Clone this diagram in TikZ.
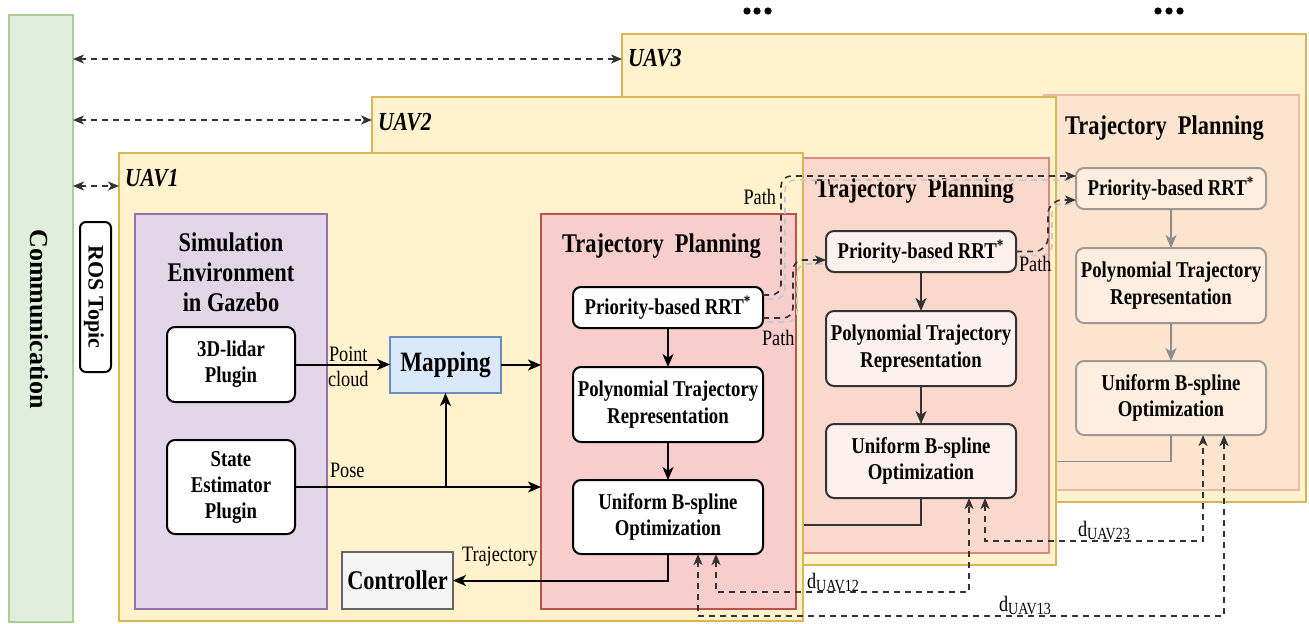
\documentclass[tikz,border=0pt]{standalone}
\usepackage{fontspec}
\setmainfont{Liberation Serif}[FakeStretch=0.83]
\newfontfamily\plainserif{Liberation Serif}
\usetikzlibrary{calc,arrows.meta}
\definecolor{commf}{HTML}{E1EEDC}
\definecolor{commd}{HTML}{A8CF96}
\definecolor{uavf}{HTML}{FFF2CC}
\definecolor{uavd}{HTML}{D6B656}
\definecolor{tpfa}{HTML}{F8CECC}
\definecolor{tpda}{HTML}{B85450}
\definecolor{tpfb}{HTML}{FAD9CC}
\definecolor{tpdb}{HTML}{D98A80}
\definecolor{tpfc}{HTML}{FCE4CE}
\definecolor{tpdc}{HTML}{EDB8A8}
\definecolor{simf}{HTML}{E1D5E7}
\definecolor{simd}{HTML}{9673A6}
\definecolor{mapf}{HTML}{DAE8FC}
\definecolor{mapd}{HTML}{6C8EBF}
\definecolor{ctrf}{HTML}{F5F5F5}
\definecolor{ctrd}{HTML}{666666}
\definecolor{boxfb}{HTML}{FCF1EE}
\definecolor{boxfc}{HTML}{FDEEDF}
\definecolor{dk}{HTML}{333333}
\definecolor{grc}{HTML}{8C8C8C}
\definecolor{grcb}{HTML}{A09A95}
\definecolor{shade}{HTML}{C8C8C8}
\newcommand\fsz[2]{\fontsize{#1}{#2}\selectfont}
\newcommand\dsub[1]{d\raisebox{-1.6pt}{\fsz{8.5}{9}#1}}
\begin{document}
\begin{tikzpicture}[x=0.5pt,y=-0.5pt,
  every node/.style={inner sep=0pt,outer sep=0pt},
  commbox/.style={draw=commd,fill=commf,line width=0.9pt},
  uavbox/.style={draw=uavd,fill=uavf,line width=1.1pt,minimum width=342pt,minimum height=234pt},
  uavlab/.style={anchor=west,font=\fsz{13}{15}\bfseries\itshape},
  tpbox/.style={line width=0.9pt,minimum width=127.5pt,minimum height=197.5pt},
  tptitle/.style={font=\fsz{13.5}{15}\bfseries},
  stepbox/.style={rounded corners=4pt,line width=1pt,align=center,font=\fsz{11.3}{13.3}\bfseries,minimum width=95pt},
  one/.style={stepbox,draw=black,fill=white},
  two/.style={stepbox,draw=dk,fill=boxfb},
  three/.style={stepbox,draw=grcb,fill=boxfc},
  simbox/.style={rounded corners=4pt,line width=1pt,draw=black,fill=white,align=center,font=\fsz{11.3}{13}\bfseries,minimum width=64pt},
  lbl/.style={font=\fsz{11}{13}},
  tip/.style={-{Stealth[length=6.5pt,width=5.5pt,inset=1.8pt]}},
  blk/.style={line width=1pt,tip},
  dashline/.style={line width=0.8pt,dash pattern=on 3pt off 2.5pt},
  darr/.style={dashline,draw=dk,{Stealth[length=5.5pt,width=4.5pt,inset=1.5pt]}-{Stealth[length=5.5pt,width=4.5pt,inset=1.5pt]}},
  parr/.style={dashline,draw=dk,rounded corners=5pt,-{Stealth[length=5.5pt,width=4.5pt,inset=1.5pt]}},
  pshadow/.style={dashline,draw=shade,rounded corners=5pt}
]
\useasboundingbox (0,0) rectangle (1309,623);

% Communication
\node[commbox,minimum width=32pt,minimum height=303.5pt] (comm) at (41,318.5) {};
\node[rotate=-90,font=\plainserif\fsz{13}{15}\bfseries] (commtxt) at (39,319) {Communication};
\node[draw=black,fill=white,line width=1pt,rounded corners=3pt,minimum width=15.5pt,minimum height=75pt] (ros) at (95.5,297) {};
\node[rotate=-90,font=\plainserif\fsz{11}{13}\bfseries] (rostxt) at (94,297) {ROS Topic};

% dots
\foreach \xx in {747,757,768,1158,1169,1180} \fill (\xx,11) circle[radius=1.8pt];

% ---------- UAV3 ----------
\node[uavbox] (uav3) at (964,268) {};
\node[uavlab] (uav3l) at ($(uav3.north west)+(6,24)$) {UAV3};
\node[tpbox,draw=tpdc,fill=tpfc] (tp3) at (1171.5,292.5) {};
\node[tptitle] (tp3t) at (1164.5,128) {Trajectory\ \ Planning};
\node[three,minimum height=20.5pt] (prrt3) at (1171,188.5) {Priority-based RRT\textsuperscript{*}};
\node[three,minimum height=37.5pt] (poly3) at (1171,285.5) {Polynomial Trajectory\\Representation};
\node[three,minimum height=37pt] (unif3) at (1171,398) {Uniform B-spline\\Optimization};
\coordinate (ctrl3) at (900.5,461.5);
\draw[line width=0.9pt,draw=grc,tip] (prrt3) -- (poly3);
\draw[line width=0.9pt,draw=grc,tip] (poly3) -- (unif3);
\draw[line width=0.9pt,draw=grc] (unif3.south) |- (ctrl3);

% ---------- UAV2 ----------
\node[uavbox] (uav2) at (714,331) {};
\node[uavlab] (uav2l) at ($(uav2.north west)+(6,25)$) {UAV2};
\node[tpbox,draw=tpdb,fill=tpfb] (tp2) at (921.5,355.5) {};
\node[tptitle] (tp2t) at (914.5,191) {Trajectory\ \ Planning};
\node[two,minimum height=20.5pt] (prrt2) at (921,251.5) {Priority-based RRT\textsuperscript{*}};
\node[two,minimum height=37.5pt] (poly2) at (921,348.5) {Polynomial Trajectory\\Representation};
\node[two,minimum height=37pt] (unif2) at (921,461) {Uniform B-spline\\Optimization};
\coordinate (ctrl2) at (650.5,524.5);
\draw[line width=1pt,draw=dk,tip] (prrt2) -- (poly2);
\draw[line width=1pt,draw=dk,tip] (poly2) -- (unif2);
\draw[line width=1pt,draw=dk] (unif2.south) |- (ctrl2);

% ---------- UAV1 ----------
\node[uavbox] (uav1) at (461,387) {};
\node[uavlab] (uav1l) at ($(uav1.north west)+(6,25)$) {UAV1};
\node[tpbox,draw=tpda,fill=tpfa] (tp1) at (668.5,411.5) {};
\node[tptitle] (tp1t) at (661.5,246.5) {Trajectory\ \ Planning};
\node[one,minimum height=20.5pt] (prrt1) at (668,307.5) {Priority-based RRT\textsuperscript{*}};
\node[one,minimum height=37.5pt] (poly1) at (668,404.5) {Polynomial Trajectory\\Representation};
\node[one,minimum height=37pt] (unif1) at (668,517) {Uniform B-spline\\Optimization};

\node[draw=simd,fill=simf,line width=1pt,minimum width=96pt,minimum height=197.5pt] (sim) at (231,411.5) {};
\node[align=center,font=\fsz{13.5}{15}\bfseries] (simt) at (231,272) {Simulation\\Environment\\in Gazebo};
\node[simbox,minimum height=37.5pt] (lidar) at (231,364.5) {3D-lidar\\Plugin};
\node[simbox,minimum height=47pt] (state) at (231,487) {State\\Estimator\\Plugin};
\node[draw=mapd,fill=mapf,line width=1pt,minimum width=55.5pt,minimum height=28pt,font=\fsz{14}{16}\bfseries] (mapping) at (445.5,365) {Mapping};
\node[draw=ctrd,fill=ctrf,line width=1pt,minimum width=55.5pt,minimum height=28.5pt,font=\fsz{13.5}{15}\bfseries] (controller) at (397.5,580.5) {Controller};

\draw[blk] (lidar.east) -- (lidar.east -| mapping.west);
\draw[blk] (state.east) -- (state.east -| tp1.west);
\draw[blk] (state.east -| mapping.south) -- (mapping.south);
\draw[blk] (mapping.east) -- (mapping.east -| tp1.west);
\draw[blk] (prrt1) -- (poly1);
\draw[blk] (poly1) -- (unif1);
\draw[blk] (unif1.south) |- (controller.east);

\node[lbl,anchor=base west] (lpoint) at (329,361) {Point};
\node[lbl,anchor=base west] (lcloud) at (328,386) {cloud};
\node[lbl,anchor=base west] (lpose) at (330,477) {Pose};
\node[lbl,anchor=base west] (ltraj) at (462,561) {Trajectory};

% ---------- Path connectors ----------
\draw[pshadow] ($(prrt1.east)+(4,-8.5)$) -- ++(18,0) |- ($(prrt3.west)+(-2,-8.5)$);
\draw[pshadow] ($(prrt1.east)+(4,14.5)$) -- ++(30,0) |- ($(prrt2.west)+(-2,12.5)$);
\draw[pshadow] ($(prrt2.east)+(4,4)$) -- ++(32,0) |- ($(prrt3.west)+(-2,15.5)$);
\draw[parr] ($(prrt1.east)+(0,-12.5)$) -- ++(18,0) |- ($(prrt3.west)+(0,-12.5)$);
\draw[parr] ($(prrt1.east)+(0,10.5)$) -- ++(30,0) |- ($(prrt2.west)+(0,8.5)$);
\draw[parr,rounded corners=7pt] (prrt2.east) -- ++(32,0) |- ($(prrt3.west)+(0,11.5)$);
\node[lbl,anchor=base east] (lpath1) at (776,204) {Path};
\node[lbl,anchor=base west] (lpath2) at (762,345) {Path};
\node[lbl,anchor=base west] (lpath3) at (1019,271) {Path};

% ---------- distance connectors ----------
\draw[darr] ($(unif1.south)+(48,0)$) -- ++(0,38) -| ($(unif2.south)+(48,0)$);
\draw[darr] ($(unif1.south)+(30,0)$) -- ++(0,62) -| ($(unif3.south)+(53,0)$);
\draw[darr] ($(unif2.south)+(64,0)$) -- ++(0,43) -| ($(unif3.south)+(32,0)$);
\node[lbl,anchor=base west] (d12) at (807,588) {\dsub{UAV12}};
\node[lbl,anchor=base west] (d13) at (999,611) {\dsub{UAV13}};
\node[lbl,anchor=base west] (d23) at (1078,536) {\dsub{UAV23}};

% ---------- communication links ----------
\coordinate (k3) at ($(comm.north east)+(0,44)$);
\coordinate (k2) at ($(comm.north east)+(0,105)$);
\coordinate (k1) at ($(comm.north east)+(0,171)$);
\draw[darr] (k3) -- (k3 -| uav3.west);
\draw[darr] (k2) -- (k2 -| uav2.west);
\draw[darr] (k1) -- (k1 -| uav1.west);
\end{tikzpicture}
\end{document}
